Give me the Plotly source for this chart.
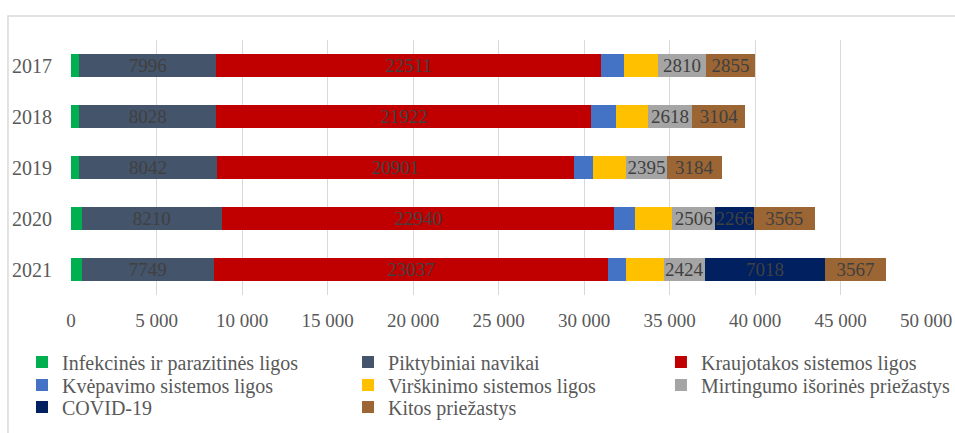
import plotly.graph_objects as go

years = ["2017", "2018", "2019", "2020", "2021"]

infekcines = [490, 480, 480, 620, 620]
piktybiniai = [7996, 8028, 8042, 8210, 7749]
kraujotakos = [22511, 21922, 20901, 22940, 23037]
kvepavimo = [1345, 1420, 1130, 1230, 1070]
virskinimo = [1990, 1870, 1910, 2160, 2180]
isorines = [2810, 2618, 2395, 2506, 2424]
covid = [None, None, None, 2266, 7018]
kitos = [2855, 3104, 3184, 3565, 3567]

x_ticks = [0, 5000, 10000, 15000, 20000, 25000, 30000, 35000, 40000, 45000, 50000]

series = [
    ("Infekcinės ir parazitinės ligos", infekcines, "#00b050", False),
    ("Piktybiniai navikai", piktybiniai, "#44546a", True),
    ("Kraujotakos sistemos ligos", kraujotakos, "#c00000", True),
    ("Kvėpavimo sistemos ligos", kvepavimo, "#4472c4", False),
    ("Virškinimo sistemos ligos", virskinimo, "#ffc000", False),
    ("Mirtingumo išorinės priežastys", isorines, "#a5a5a5", True),
    ("COVID-19", covid, "#002060", True),
    ("Kitos priežastys", kitos, "#9b6534", True),
]

# legend grid: 3 columns, filled row by row
col_x = [-0.0573, 0.3240, 0.6900]
row_y = [-0.2627, -0.3529, -0.4392]

FONT = "Liberation Serif"

fig = go.Figure()
legend_layout = {}
for i, (name, vals, color, labels) in enumerate(series):
    leg = "legend" if i == 0 else f"legend{i + 1}"
    fig.add_trace(go.Bar(
        name=name,
        y=years,
        x=vals,
        orientation="h",
        marker=dict(color=color, line=dict(width=0)),
        texttemplate="%{x:d}" if labels else None,
        textposition="inside" if labels else "none",
        insidetextanchor="middle",
        constraintext="none",
        textfont=dict(family=FONT, size=19, color="#404040"),
        legend=leg,
        hoverinfo="x+name",
    ))
    legend_layout[leg] = dict(
        orientation="v",
        x=col_x[i % 3],
        y=row_y[i // 3],
        xanchor="left",
        yanchor="middle",
        font=dict(family=FONT, size=20, color="#595959"),
        bgcolor="rgba(0,0,0,0)",
        itemclick=False,
    )

fig.update_layout(
    width=955,
    height=433,
    barmode="stack",
    bargap=0.55,
    separators=". ",
    plot_bgcolor="white",
    paper_bgcolor="white",
    margin=dict(l=71, r=29, t=40, b=138, autoexpand=False),
    font=dict(family=FONT, color="#595959"),
    showlegend=True,
    xaxis=dict(
        range=[0, 50000],
        tickvals=x_ticks,
        tickformat=",d",
        showgrid=True,
        gridcolor="#d9d9d9",
        gridwidth=1.3,
        zeroline=False,
        showline=False,
        ticks="",
        ticklabelstandoff=12,
        automargin=False,
        tickfont=dict(family=FONT, size=19, color="#595959"),
    ),
    yaxis=dict(
        categoryorder="array",
        categoryarray=years,
        autorange="reversed",
        showgrid=False,
        zeroline=False,
        showline=False,
        ticks="",
        ticklabelstandoff=18,
        automargin=False,
        tickfont=dict(family=FONT, size=20, color="#595959"),
    ),
    shapes=[
        dict(
            type="rect", xref="paper", yref="paper",
            x0=-0.0737, x1=1.05, y0=-0.6, y1=1.094,
            line=dict(color="#d9d9d9", width=1.5),
            fillcolor="rgba(0,0,0,0)", layer="above",
        )
    ],
    **legend_layout,
)

fig.write_html(
    "out.html",
    config={"displayModeBar": False},
    post_script="document.body.style.margin='0px';document.body.style.overflow='hidden';",
)
